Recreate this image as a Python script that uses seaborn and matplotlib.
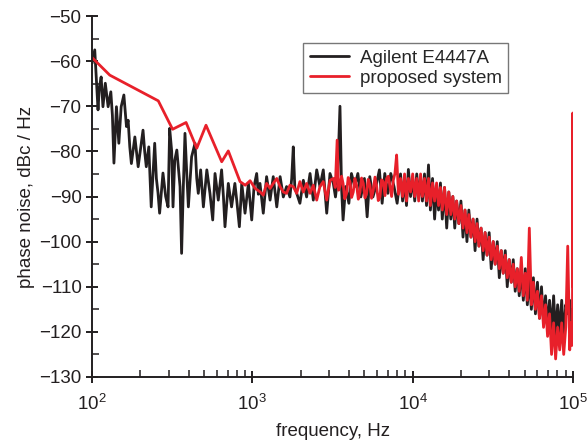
import numpy as np
import pandas as pd
import matplotlib
matplotlib.use("Agg")
import matplotlib.pyplot as plt
from matplotlib.ticker import MultipleLocator, LogLocator
import seaborn as sns

sns.set_style("ticks")
plt.rcParams['font.family'] = ['Liberation Sans', 'DejaVu Sans']
plt.rcParams['mathtext.default'] = 'regular'

# Agilent E4447A, 100 Hz - 8 kHz
black_f = [100, 102, 104, 106, 109, 111, 114, 117, 121, 126, 131, 134, 137, 142, 147, 152,
           158, 164, 168, 172, 176, 185, 194, 208, 213, 218, 226, 234, 246, 252, 258, 264,
           277, 288, 298, 305, 314, 320, 328, 338, 354, 362, 371, 380, 390, 399, 418, 439,
           450, 460, 476, 495, 508, 520, 544, 566, 585, 613, 643, 660, 675, 708, 742, 778,
           800, 830, 859, 900, 945, 991, 1025, 1064, 1090, 1116, 1170, 1227, 1290, 1350,
           1420, 1490, 1560, 1635, 1715, 1760, 1800, 1840, 1890, 1980, 2080, 2180, 2290,
           2400, 2520, 2640, 2770, 2910, 3050, 3200, 3300, 3400, 3520, 3600, 3680, 3820,
           4000, 4150, 4350, 4550, 4750, 5000, 5200, 5400, 5650, 5900, 6200, 6450, 6700,
           7000, 7300, 7650, 8000]
black_db = [-60.5, -59, -57.5, -63, -70.8, -66, -63.5, -70.1, -64.9, -70.1, -66.8, -72, -82.6,
            -70.1, -78.2, -70.1, -67.5, -74.5, -73.1, -79, -82.7, -76.8, -83.4, -75.3, -80,
            -83.4, -79, -92.3, -78.2, -86, -89.2, -93.7, -84.8, -90, -92.3, -74.9, -80, -92.3,
            -82, -79.7, -87.8, -102.6, -88, -76, -85, -92.3, -81.2, -78.2, -86, -89.3, -84.1,
            -92.3, -88, -84.1, -89.3, -95.2, -84.9, -90.8, -84.1, -90, -96.7, -87.1, -92.3,
            -87.1, -91, -96.7, -87.1, -93.7, -87.1, -95.2, -87.8, -84.9, -89.5, -87.1, -93.7,
            -85.6, -90.8, -85.6, -92.3, -85.6, -90.1, -87.8, -90.1, -86, -79, -88, -89.3,
            -91.5, -86.4, -90.1, -84.9, -90.8, -84.1, -87.8, -84.1, -93.7, -84.9, -87.1,
            -90.1, -86, -70, -88, -95.2, -87.8, -91.5, -84.9, -87.8, -84.9, -90.1, -86,
            -94.5, -85.6, -90.1, -87.8, -84.1, -91.5, -84.9, -89.3, -84.9, -87.8, -91.5]

# proposed system, 100 Hz - 8 kHz
red_f = [100, 129, 259, 318, 386, 450, 514, 644, 708, 838, 903, 968, 1040, 1120, 1170, 1227,
         1290, 1350, 1420, 1490, 1560, 1635, 1715, 1800, 1890, 1980, 2080, 2180, 2290, 2400,
         2520, 2640, 2770, 2910, 3050, 3200, 3290, 3380, 3450, 3520, 3600, 3680, 3770, 3870,
         3960, 4060, 4160, 4260, 4360, 4470, 4580, 4690, 4800, 4920, 5040, 5160, 5280, 5410,
         5540, 5680, 5820, 5960, 6100, 6250, 6400, 6560, 6720, 6880, 7050, 7220, 7390, 7570,
         7750, 7940, 8150]
red_db = [-59.2, -63.1, -68.8, -75.1, -73.6, -79.3, -74.2, -82.3, -79.9, -86.7, -87.5, -86.5,
          -88.2, -89, -89.7, -87.1, -88.2, -87.1, -86, -87.8, -89, -89.3, -87.5, -87.8, -89.3,
          -86.7, -89, -87.1, -89.3, -87.5, -90.8, -87.8, -86.7, -90.8, -86.4, -86, -88, -77.5,
          -88.6, -87.8, -85.5, -87.1, -90.5, -89.3, -85.8, -86.7, -90.2, -89, -86, -87.5,
          -90.6, -89, -85.9, -87.1, -90.3, -89.3, -86.2, -87.5, -90.4, -88.6, -85.7, -87.8,
          -90.9, -90.1, -86.3, -86.7, -89.8, -86, -85.5, -87.8, -90, -86.4, -84.9, -80.8, -89.5]

# dense band above 8 kHz, shared frequency points
band_f = [8400, 8650, 8900, 9150, 9400, 9700, 10000, 10300, 10600, 10900, 11200, 11500, 11850,
          12200, 12550, 12900, 13300, 13700, 14100, 14500, 14900, 15300, 15800, 16300, 16800,
          17300, 17800, 18300, 18800, 19400, 20000, 20600, 21200, 21800, 22400, 23100, 23800,
          24500, 25200, 25900, 26700, 27500, 28300, 29100, 30000, 30900, 31800, 32700, 33700,
          34700, 35700, 36700, 37800, 38900, 40000, 41200, 42400, 43600, 44900, 46200, 47600,
          49000, 50400, 51900, 53400, 55000, 56600, 58300, 60000, 61800, 63600, 65500, 67400,
          69400, 71400, 73500, 75700, 77900, 80200, 82600, 85000, 87500, 90100, 92700, 95400,
          97000, 98500, 99200, 99600, 100000]
black_band = [-85, -91, -86, -92, -84, -90, -86, -91, -85, -90, -86, -91, -85, -92, -83, -93,
              -86, -95, -88, -93, -87, -95, -88, -97, -89, -95, -90, -97, -91, -96, -91, -99,
              -93, -100, -93, -99, -95, -102, -95, -101, -97, -104, -98, -103, -98, -106, -100,
              -105, -100, -108, -102, -107, -102, -110, -104, -109, -104, -111, -106, -112, -106,
              -113, -106, -114, -108, -115, -108, -116, -109, -117, -110, -118, -112, -119, -113,
              -120, -112, -121, -114, -120, -113, -121, -114, -116, -113, -120, -115, -119, -117,
              -116]
red_band = [-86, -90, -85, -91, -86, -89, -85, -90, -86, -91, -85, -90, -86, -91, -86, -92,
            -87, -91, -87, -92, -88, -93, -88, -94, -89, -94, -90, -95, -91, -96, -92, -97,
            -93, -98, -94, -99, -95, -100, -96, -101, -97, -102, -98, -103, -99, -104, -100,
            -105, -101, -106, -102, -107, -103, -108, -104, -109, -105, -110, -106, -111, -103.5,
            -112, -107, -113, -97, -114, -109, -115, -111, -117, -112, -119, -114, -121, -116,
            -125, -118, -126, -119, -124, -118, -125, -119, -101, -124, -118, -123, -121, -71.5,
            -110]

names = ["Agilent E4447A", "proposed system"]
df = pd.DataFrame({
    "freq": black_f + band_f + red_f + band_f,
    "noise": black_db + black_band + red_db + red_band,
    "source": [names[0]] * (len(black_f) + len(band_f)) + [names[1]] * (len(red_f) + len(band_f)),
})

fig = plt.figure(figsize=(5.88, 4.4), dpi=100)
ax = fig.add_axes([0.1565, 0.1432, 0.818, 0.8204])

sns.lineplot(data=df, x="freq", y="noise", hue="source", hue_order=names,
             palette=["#231f20", "#e8202a"], estimator=None, sort=False,
             linewidth=2.0, ax=ax)

ax.set_xscale("log")
ax.set_xlim(100, 1e5)
ax.set_ylim(-130, -50)
ax.yaxis.set_major_locator(MultipleLocator(10))
ax.yaxis.set_minor_locator(MultipleLocator(5))
ax.xaxis.set_minor_locator(LogLocator(base=10, subs=np.arange(2, 10)))

sns.despine(ax=ax)
for s in ["left", "bottom"]:
    ax.spines[s].set_linewidth(1.4)
    ax.spines[s].set_color("#231f20")
ax.tick_params(which="major", direction="inout", length=9, width=1.4, labelsize=13.5,
               color="#231f20", labelcolor="#231f20", pad=3)
ax.tick_params(axis="x", which="major", pad=8)
ax.tick_params(which="minor", direction="in", length=5, width=1.1, color="#231f20")

ax.set_xlabel("frequency, Hz", fontsize=13.5, color="#231f20", labelpad=6)
ax.set_ylabel("phase noise, dBc / Hz", fontsize=13.5, color="#231f20", labelpad=3)

handles, labels = ax.get_legend_handles_labels()
leg = ax.legend(handles, labels, loc="upper right", bbox_to_anchor=(0.865, 0.925),
                fontsize=13.5, frameon=True, fancybox=False, handlelength=2.1,
                borderpad=0.35, labelspacing=0.15, handletextpad=0.55, borderaxespad=0)
leg.get_frame().set_edgecolor("#555555")
leg.get_frame().set_linewidth(1.0)
for line in leg.get_lines():
    line.set_linewidth(2)

plt.savefig("out.png", dpi=100)
